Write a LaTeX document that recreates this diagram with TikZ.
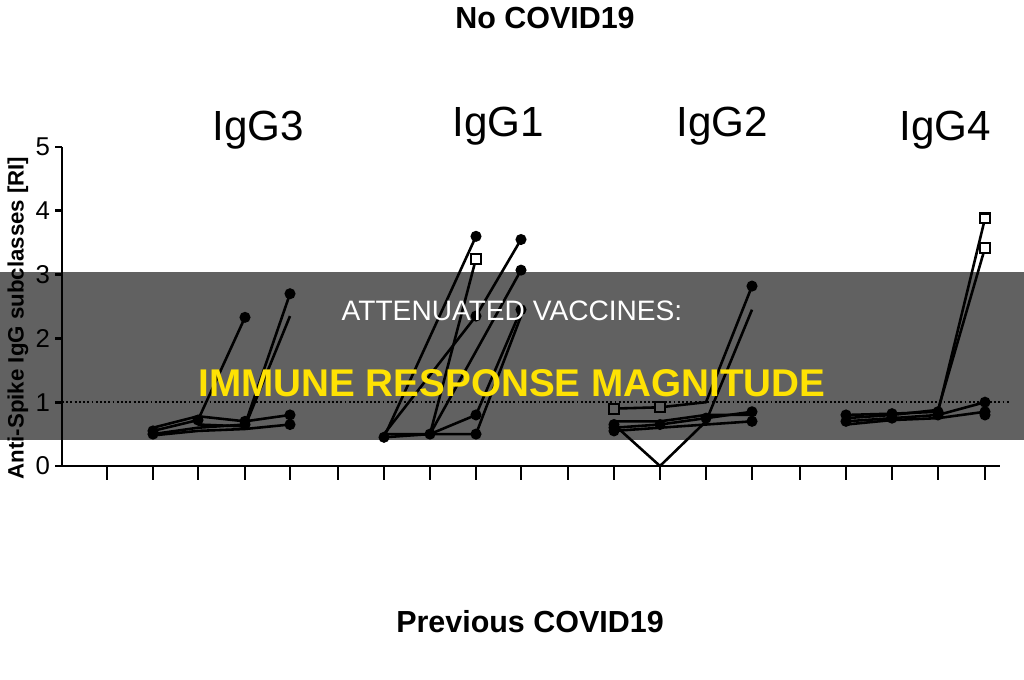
\documentclass[tikz,border=0pt]{standalone}
\usepackage{fontspec}
\setmainfont{Liberation Sans}
\usetikzlibrary{positioning}
\tikzset{
  hdr/.style={font=\fontsize{36}{38}\selectfont},
  ttl/.style={font=\bfseries\fontsize{26}{28}\selectfont},
  ser/.style={line width=2.2pt,black},
  dot/.style={circle,fill=black,inner sep=0pt,minimum size=9.5pt},
  sq/.style={draw=black,fill=white,line width=1.8pt,inner sep=0pt,minimum size=8.5pt},
}
\newcommand{\vy}[1]{466-63.8*#1}
\begin{document}
\begin{tikzpicture}[x=0.03cm,y=-0.03cm]
  \useasboundingbox (0,0) rectangle (1024,680);
  \fill[white] (0,0) rectangle (1024,680);
  \node[ttl] (top) at (545,18) {No COVID19};
  \node[hdr] (g3) at (258,130) {IgG3};
  \node[hdr] (g1) at (498,126) {IgG1};
  \node[hdr] (g2) at (722,126) {IgG2};
  \node[hdr] (g4) at (945,130) {IgG4};
  % axes
  \draw[line width=2.4pt] (62,147) -- (62,466) -- (1000,466);
  \foreach \v in {0,...,5} {
    \draw[line width=2.4pt] (55,{\vy{\v}}) -- (62,{\vy{\v}});
    \node[font=\fontsize{22}{24}\selectfont,left] at (54,{\vy{\v}}) {\v};
  }
  \foreach \x in {107,153,198,245,290,338,384,430,476,521,568,614,660,706,752,800,846,892,938,985}
    \draw[line width=2.4pt] (\x,466) -- (\x,480);
  \draw[line width=1.6pt,dotted] (62,{\vy{1}}) -- (1010,{\vy{1}});
  \node[rotate=90,font=\bfseries\fontsize{19}{21}\selectfont] (ylab) at (18,318) {Anti-Spike IgG subclasses [RI]};
  % IgG3
  \draw[ser] (153,{\vy{.55}}) -- (198,{\vy{.72}}) -- (245,{\vy{2.33}});
  \draw[ser] (153,{\vy{.5}}) -- (198,{\vy{.6}}) -- (245,{\vy{.65}}) -- (290,{\vy{2.7}});
  \draw[ser] (153,{\vy{.6}}) -- (198,{\vy{.78}}) -- (245,{\vy{.7}}) -- (290,{\vy{.8}});
  \draw[ser] (153,{\vy{.48}}) -- (198,{\vy{.55}}) -- (245,{\vy{.58}}) -- (290,{\vy{.65}});
  \draw[ser] (198,{\vy{.65}}) -- (245,{\vy{.62}}) -- (290,{\vy{2.35}});
  \foreach \x/\v in {245/2.33,290/2.7,198/.72,245/.65,290/.8,290/.65,153/.55,153/.5,245/.7}
    \node[dot] at (\x,{\vy{\v}}) {};
  % IgG1
  \draw[ser] (384,{\vy{.45}}) -- (476,{\vy{3.6}});
  \draw[ser] (384,{\vy{.5}}) -- (430,{\vy{.5}}) -- (476,{\vy{3.25}});
  \draw[ser] (384,{\vy{.5}}) -- (476,{\vy{2.35}}) -- (521,{\vy{3.55}});
  \draw[ser] (430,{\vy{.5}}) -- (521,{\vy{3.07}});
  \draw[ser] (430,{\vy{.5}}) -- (476,{\vy{.8}}) -- (521,{\vy{2.45}});
  \draw[ser] (384,{\vy{.45}}) -- (430,{\vy{.5}}) -- (476,{\vy{.5}}) -- (521,{\vy{2.35}});
  \foreach \x/\v in {476/3.6,521/3.55,521/3.07,521/2.45,476/2.35,384/.45,430/.5,476/.5,476/.8}
    \node[dot] at (\x,{\vy{\v}}) {};
  \node[sq] at (476,{\vy{3.25}}) {};
  % IgG2
  \draw[ser] (614,{\vy{.9}}) -- (660,{\vy{.92}}) -- (706,{\vy{1}}) -- (752,{\vy{2.82}});
  \draw[ser] (614,{\vy{.65}}) -- (660,{\vy{0}}) -- (706,{\vy{.7}}) -- (752,{\vy{2.45}});
  \draw[ser] (614,{\vy{.6}}) -- (660,{\vy{.65}}) -- (706,{\vy{.75}}) -- (752,{\vy{.85}});
  \draw[ser] (614,{\vy{.7}}) -- (660,{\vy{.7}}) -- (706,{\vy{.8}}) -- (752,{\vy{.8}});
  \draw[ser] (614,{\vy{.55}}) -- (660,{\vy{.6}}) -- (706,{\vy{.65}}) -- (752,{\vy{.7}});
  \foreach \x/\v in {752/2.82,614/.65,614/.6,660/.65,706/.75,752/.85,752/.7,614/.55}
    \node[dot] at (\x,{\vy{\v}}) {};
  \node[sq] at (614,{\vy{.9}}) {};
  \node[sq] at (660,{\vy{.92}}) {};
  % IgG4
  \draw[ser] (846,{\vy{.8}}) -- (892,{\vy{.82}}) -- (938,{\vy{.85}}) -- (985,{\vy{3.88}});
  \draw[ser] (846,{\vy{.75}}) -- (892,{\vy{.8}}) -- (938,{\vy{.88}}) -- (985,{\vy{3.42}});
  \draw[ser] (846,{\vy{.7}}) -- (892,{\vy{.75}}) -- (938,{\vy{.8}}) -- (985,{\vy{1}});
  \draw[ser] (846,{\vy{.65}}) -- (892,{\vy{.72}}) -- (938,{\vy{.75}}) -- (985,{\vy{.85}});
  \foreach \x/\v in {846/.8,892/.82,938/.85,846/.7,892/.75,938/.8,985/1,985/.85,985/.8}
    \node[dot] at (\x,{\vy{\v}}) {};
  \node[sq] at (985,{\vy{3.42}}) {};
  \node[sq] at (985,{\vy{3.88}}) {};
  % bottom title
  \node[ttl] (bot) at (530,622) {Previous COVID19};
  % banner
  \fill[black,opacity=.62] (0,272) rectangle (1024,440);
  \node[white,font=\fontsize{24}{26}\selectfont] (b1) at (512,311) {ATTENUATED VACCINES:};
  \node[yellow!85!orange,font=\bfseries\fontsize{33}{35}\selectfont] (b2) at (512,383) {IMMUNE RESPONSE MAGNITUDE};
\end{tikzpicture}
\end{document}
